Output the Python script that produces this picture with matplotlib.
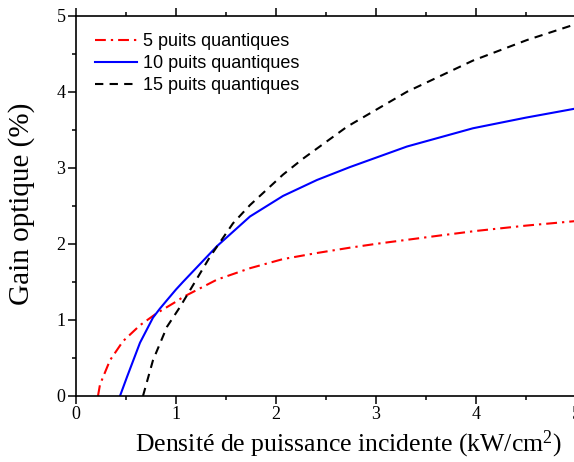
import matplotlib.pyplot as plt
from matplotlib.ticker import MultipleLocator

# values
x_5qw = [0.22, 0.24, 0.34, 0.47, 0.64, 0.81, 1.0, 1.07, 1.41, 1.74, 2.07, 2.41, 2.74, 3.0, 3.64, 4.0, 4.5, 5.0]
y_5qw = [0.0, 0.15, 0.47, 0.72, 0.93, 1.09, 1.24, 1.30, 1.53, 1.68, 1.80, 1.88, 1.95, 2.0, 2.11, 2.17, 2.24, 2.30]

x_10qw = [0.44, 0.51, 0.64, 0.77, 0.84, 0.91, 1.0, 1.07, 1.41, 1.74, 2.07, 2.41, 2.74, 3.31, 3.97, 4.5, 5.0]
y_10qw = [0.0, 0.25, 0.70, 1.03, 1.15, 1.26, 1.40, 1.50, 1.97, 2.36, 2.63, 2.84, 3.01, 3.28, 3.52, 3.66, 3.78]

x_15qw = [0.67, 0.77, 0.91, 1.04, 1.34, 1.57, 1.74, 2.07, 2.27, 2.71, 3.31, 3.97, 4.51, 5.0]
y_15qw = [0.0, 0.47, 0.91, 1.17, 1.83, 2.27, 2.51, 2.91, 3.12, 3.54, 4.00, 4.41, 4.68, 4.89]

labels = ["5 puits quantiques", "10 puits quantiques", "15 puits quantiques"]

plt.rcParams['font.family'] = 'Liberation Serif'
plt.rcParams['mathtext.fontset'] = 'custom'
plt.rcParams['mathtext.rm'] = 'Liberation Serif'
plt.rcParams['mathtext.default'] = 'rm'

fig = plt.figure(figsize=(5.74, 4.62), dpi=100)
ax = fig.add_axes([0.1324, 0.1429, 0.871, 0.8231])

ax.plot(x_5qw, y_5qw, color='red', lw=1.5, dashes=(5.2, 2.4, 1.1, 2.4), label=labels[0])
ax.plot(x_10qw, y_10qw, color='blue', lw=1.5, label=labels[1])
ax.plot(x_15qw, y_15qw, color='black', lw=1.5, dashes=(4.0, 3.0), label=labels[2])

ax.set_xlim(0, 5)
ax.set_ylim(0, 5)
ax.xaxis.set_major_locator(MultipleLocator(1))
ax.xaxis.set_minor_locator(MultipleLocator(0.5))
ax.yaxis.set_major_locator(MultipleLocator(1))
ax.yaxis.set_minor_locator(MultipleLocator(0.5))
ax.tick_params(which='major', length=5.5, width=1.1, labelsize=13, direction='out', pad=2)
ax.tick_params(which='minor', length=3, width=1.1, direction='out')
ax.tick_params(which='both', top=True)
for s in ax.spines.values():
    s.set_linewidth(1.2)

ax.set_xlabel("Densité de puissance incidente (kW/cm$^2$)", fontsize=18.5)
ax.xaxis.set_label_coords(0.545, -0.086)
ax.set_ylabel("Gain optique (%)", fontsize=21)
ax.yaxis.set_label_coords(-0.082, 0.505)

ax.legend(loc='upper left', bbox_to_anchor=(0.02, 0.978), frameon=False, borderpad=0,
          handlelength=2.3, handletextpad=0.35, labelspacing=0.28,
          prop={'family': 'Liberation Sans', 'size': 13})

fig.savefig("out.png", dpi=100)
